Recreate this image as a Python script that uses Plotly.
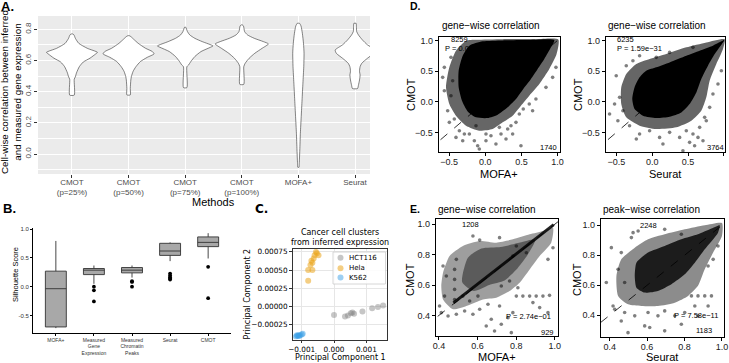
import plotly.graph_objects as go

W, H = 729, 363
SANS = "Liberation Sans, Arial, sans-serif"
MPL = "DejaVu Sans, sans-serif"

# ---------------- Panel A: violin outlines (value, half-width in category units)
a_labels = ["CMOT<br>(p=25%)", "CMOT<br>(p=50%)", "CMOT<br>(p=75%)", "CMOT<br>(p=100%)", "MOFA+", "Seurat"]
a_cmot25_y = [0.378, 0.48, 0.495, 0.52, 0.56, 0.59, 0.615, 0.642, 0.652, 0.678, 0.71, 0.742, 0.764, 0.77]
a_cmot25_w = [0.04, 0.04, 0.06, 0.08, 0.13, 0.20, 0.32, 0.42, 0.45, 0.27, 0.12, 0.06, 0.035, 0.01]
a_cmot50_y = [0.379, 0.42, 0.475, 0.497, 0.53, 0.56, 0.593, 0.62, 0.642, 0.657, 0.678, 0.71, 0.736, 0.753, 0.759]
a_cmot50_w = [0.03, 0.03, 0.04, 0.05, 0.08, 0.13, 0.21, 0.33, 0.45, 0.42, 0.30, 0.17, 0.09, 0.04, 0.01]
a_cmot75_y = [0.426, 0.56, 0.571, 0.593, 0.625, 0.657, 0.685, 0.693, 0.721, 0.742, 0.764, 0.785, 0.813]
a_cmot75_w = [0.03, 0.03, 0.06, 0.10, 0.17, 0.28, 0.45, 0.49, 0.30, 0.17, 0.08, 0.04, 0.01]
a_cmot100_y = [0.447, 0.56, 0.582, 0.614, 0.646, 0.678, 0.706, 0.721, 0.742, 0.764, 0.785, 0.821, 0.828]
a_cmot100_w = [0.035, 0.035, 0.06, 0.13, 0.23, 0.36, 0.47, 0.38, 0.22, 0.10, 0.05, 0.03, 0.01]
a_mofa_y = [-0.085, -0.06, 0.026, 0.133, 0.24, 0.347, 0.454, 0.56, 0.646, 0.71, 0.774, 0.82, 0.838]
a_mofa_w = [0.01, 0.015, 0.025, 0.035, 0.05, 0.065, 0.08, 0.095, 0.10, 0.09, 0.07, 0.047, 0.02]
a_seurat_y = [0.42, 0.44, 0.475, 0.507, 0.53, 0.56, 0.582, 0.614, 0.646, 0.667, 0.70, 0.732, 0.764, 0.785, 0.817, 0.838]
a_seurat_w = [0.045, 0.06, 0.08, 0.09, 0.08, 0.09, 0.12, 0.22, 0.33, 0.35, 0.22, 0.13, 0.06, 0.03, 0.025, 0.02]

# ---------------- Panel B: silhouette score box statistics
b_labels = ["MOFA+", "Measured<br>Gene<br>Expression", "Measured<br>Chromatin<br>Peaks", "Seurat", "CMOT"]
b_q1 = [-0.70, 0.21, 0.24, 0.544, 0.696]
b_median = [-0.035, 0.287, 0.287, 0.62, 0.77]
b_q3 = [0.27, 0.316, 0.333, 0.754, 0.865]
b_low = [-0.72, 0.05, 0.158, 0.444, 0.49]
b_high = [0.795, 0.368, 0.368, 0.77, 0.93]
b_out_x = [2, 2, 2, 3, 3, 3, 4, 4, 4, 4, 4, 5, 5]
b_out_y = [0.0, -0.064, -0.257, 0.094, 0.082, 0.0, 0.228, 0.193, 0.164, 0.14, 0.123, 0.345, -0.199]

# ---------------- Panel C: PCA of inferred expression
c_hct_x = [0.0000, 0.00034, 0.00043, 0.00052, 0.00057, 0.00062, 0.00088, 0.00118, 0.00136, 0.00152]
c_hct_y = [-0.00012, -0.000143, -0.00013, -0.000096, -0.000087, -0.000106, -0.000074, -0.00003, -0.00001, 0.00001]
c_hela_x = [-0.00056, -0.00053, -0.0006, -0.00048, -0.00063, -0.0007, -0.00067, -0.00073, -0.0008, -0.00067, -0.0008]
c_hela_y = [0.00075, 0.00073, 0.000705, 0.000705, 0.00066, 0.000626, 0.0006, 0.00057, 0.0005, 0.0005, 0.00035]
c_k562_x = [-0.00118, -0.00115, -0.00113, -0.0011, -0.00108, -0.00105, -0.001, -0.00097]
c_k562_y = [-0.00042, -0.0004, -0.00041, -0.0004, -0.00041, -0.0004, -0.00039, -0.00038]
c_groups = ["HCT116", "Hela", "K562"]

# ---------------- Panel D: gene-wise correlation, CMOT vs MOFA+ / Seurat
d1_halo_x = [-0.267, -0.406, -0.498, -0.544, -0.498, -0.406, -0.267, -0.083, 0.101, 0.24, 0.378, 0.493, 0.608, 0.747, 0.885, 0.986, 1.01, 0.70, 0.24, -0.129]
d1_halo_y = [0.995, 0.832, 0.56, 0.234, -0.038, -0.228, -0.391, -0.473, -0.446, -0.337, -0.228, -0.065, 0.098, 0.288, 0.533, 0.777, 1.015, 1.02, 1.02, 1.01]
d1_core_x = [-0.221, -0.037, 0.24, 0.608, 0.954, 0.908, 0.816, 0.724, 0.631, 0.525, 0.424, 0.309, 0.171, 0.032, -0.129, -0.244, -0.323, -0.369, -0.369, -0.313]
d1_core_y = [0.913, 0.984, 1.0, 1.005, 1.005, 0.886, 0.696, 0.533, 0.37, 0.207, 0.043, -0.092, -0.212, -0.266, -0.255, -0.158, 0.016, 0.234, 0.505, 0.75]
d1_pts_x = [-0.475, -0.521, -0.429, -0.498, -0.359, -0.313, -0.406, -0.221, -0.152, -0.106, 0.009, 0.078, 0.147, 0.217, 0.286, 0.309, 0.424, 0.47, 0.525, 0.608, 0.70, 0.654, 0.839, 0.931, 0.977, -0.59, -0.567, -0.475, -0.083, 0.493, 0.378, -0.129, 0.009, -0.452, -0.567, -0.29, 0.194, 0.355]
d1_pts_y = [0.098, -0.147, -0.283, -0.337, -0.473, -0.636, -0.582, -0.527, -0.636, -0.717, -0.636, -0.554, -0.69, -0.527, -0.609, -0.446, -0.337, -0.201, -0.12, -0.038, 0.043, -0.147, 0.234, 0.397, 0.56, 0.397, 0.56, 0.723, -0.772, -0.717, -0.527, -0.391, -0.527, 0.342, 0.179, -0.527, -0.418, -0.391]

d2_halo_x = [1.01, 0.754, 0.475, 0.196, -0.037, -0.223, -0.363, -0.433, -0.433, -0.363, -0.177, 0.056, 0.335, 0.545, 0.684, 0.754, 0.801, 0.894, 0.987]
d2_halo_y = [1.02, 0.967, 0.886, 0.777, 0.696, 0.614, 0.451, 0.234, -0.038, -0.255, -0.391, -0.446, -0.418, -0.31, -0.147, 0.071, 0.342, 0.614, 0.859]
d2_core_x = [1.0, 0.847, 0.661, 0.475, 0.242, 0.056, -0.084, -0.177, -0.247, -0.279, -0.247, -0.13, 0.056, 0.242, 0.405, 0.521, 0.615, 0.684, 0.777, 0.871, 0.964]
d2_core_y = [1.0, 0.913, 0.832, 0.75, 0.641, 0.56, 0.505, 0.397, 0.234, 0.043, -0.12, -0.228, -0.266, -0.245, -0.174, -0.038, 0.152, 0.37, 0.587, 0.777, 0.929]
d2_pts_x = [-0.503, -0.456, -0.363, -0.27, -0.177, 0.056, 0.242, 0.568, -0.41, -0.48, -0.317, -0.177, -0.037, 0.102, 0.242, 0.382, 0.475, 0.568, 0.521, 0.591, 0.661, 0.731, 0.801, 0.847, 0.917, 0.964, 0.708, 0.428, -0.596, -0.526, -0.223, 0.149, 0.754, 0.638]
d2_pts_y = [0.424, 0.071, 0.587, 0.668, 0.75, 0.723, 0.804, 0.886, -0.147, -0.31, -0.391, -0.527, -0.473, -0.582, -0.5, -0.582, -0.473, -0.527, -0.663, -0.717, -0.418, -0.255, -0.092, 0.125, 0.288, 0.505, -0.636, -0.799, -0.201, -0.038, -0.609, -0.69, -0.31, -0.582]

# ---------------- Panel E: gene-wise (MOFA+) and peak-wise (Seurat) correlation
e1_halo_x = [0.421, 0.455, 0.524, 0.611, 0.697, 0.783, 0.87, 0.939, 0.991, 0.982, 0.922, 0.87, 0.818, 0.766, 0.697, 0.628, 0.542, 0.473, 0.421, 0.412]
e1_halo_y = [0.681, 0.791, 0.857, 0.89, 0.879, 0.901, 0.934, 0.956, 0.978, 0.879, 0.791, 0.703, 0.615, 0.56, 0.516, 0.505, 0.462, 0.44, 0.505, 0.593]
e1_cloud_x = [0.52, 0.55, 0.62, 0.72, 0.82, 0.90, 0.86, 0.80, 0.74, 0.66, 0.58]
e1_cloud_y = [0.62, 0.78, 0.84, 0.85, 0.88, 0.90, 0.80, 0.70, 0.63, 0.60, 0.56]
e1_band_x = [0.47, 0.99, 1.0, 0.48]
e1_band_y = [0.49, 1.005, 0.99, 0.475]
e1_pts_x = [0.421, 0.403, 0.412, 0.447, 0.49, 0.533, 0.576, 0.611, 0.654, 0.714, 0.671, 0.723, 0.758, 0.783, 0.688, 0.775, 0.645, 0.801, 0.835, 0.87, 0.904, 0.939, 0.973, 0.887, 0.922, 0.965, 0.965, 0.991, 0.853, 0.783, 0.576, 0.611, 0.714, 0.801, 0.49, 0.481, 0.481, 0.481, 0.481, 0.438, 0.429, 0.524, 0.559, 0.602, 0.809, 0.766, 0.723]
e1_pts_y = [0.725, 0.462, 0.418, 0.396, 0.407, 0.429, 0.407, 0.44, 0.473, 0.462, 0.374, 0.341, 0.385, 0.418, 0.297, 0.286, 0.33, 0.527, 0.527, 0.527, 0.527, 0.527, 0.532, 0.484, 0.451, 0.418, 0.769, 0.846, 0.813, 0.791, 0.923, 0.897, 0.912, 0.857, 0.769, 0.703, 0.637, 0.571, 0.505, 0.659, 0.527, 0.527, 0.495, 0.527, 0.582, 0.626, 0.593]

e2_halo_x = [0.445, 0.436, 0.462, 0.534, 0.605, 0.694, 0.801, 0.908, 1.0, 1.0, 0.953, 0.908, 0.872, 0.819, 0.748, 0.658, 0.569, 0.498]
e2_halo_y = [0.529, 0.662, 0.773, 0.851, 0.907, 0.94, 0.973, 1.0, 1.015, 0.929, 0.818, 0.707, 0.596, 0.529, 0.484, 0.462, 0.462, 0.473]
e2_core_x = [0.534, 0.543, 0.605, 0.694, 0.783, 0.872, 0.944, 0.988, 0.979, 0.908, 0.855, 0.801, 0.73, 0.658, 0.587, 0.543]
e2_core_y = [0.662, 0.751, 0.818, 0.862, 0.907, 0.94, 0.978, 1.0, 0.951, 0.84, 0.751, 0.673, 0.607, 0.562, 0.551, 0.584]
e2_pts_x = [0.409, 0.516, 0.445, 0.382, 0.427, 0.48, 0.534, 0.605, 0.587, 0.658, 0.694, 0.614, 0.498, 0.748, 0.801, 0.837, 0.872, 0.908, 0.944, 0.855, 0.926, 0.783, 0.694, 0.953, 0.979, 0.462, 0.525, 0.694, 0.552, 0.48, 0.418, 0.462, 0.872, 0.926, 0.783]
e2_pts_y = [0.851, 0.918, 0.707, 0.618, 0.44, 0.418, 0.396, 0.418, 0.329, 0.396, 0.429, 0.318, 0.284, 0.396, 0.418, 0.529, 0.529, 0.529, 0.529, 0.462, 0.462, 0.34, 0.296, 0.773, 0.862, 0.818, 0.951, 0.973, 0.962, 0.618, 0.462, 0.362, 0.396, 0.729, 0.94]

identity_line = [-1.0, 1.1]


def dx(px):
    return px / W


def dy(py):
    return 1 - py / H


fig = go.Figure()

# ---- A: violins
violins = [(a_cmot25_y, a_cmot25_w), (a_cmot50_y, a_cmot50_w), (a_cmot75_y, a_cmot75_w),
           (a_cmot100_y, a_cmot100_w), (a_mofa_y, a_mofa_w), (a_seurat_y, a_seurat_w)]
for i, (vy, vw) in enumerate(violins):
    pos = i + 1
    xs = [pos - w for w in vw] + [pos + w for w in vw[::-1]]
    ys = list(vy) + list(vy[::-1])
    xs.append(xs[0]); ys.append(ys[0])
    fig.add_trace(go.Scatter(x=xs, y=ys, mode="lines", fill="toself", fillcolor="white",
                             line=dict(color="#333333", width=0.6, shape="spline", smoothing=0.6),
                             xaxis="x", yaxis="y", hoverinfo="skip", showlegend=False))

# ---- B: boxes
b_pos = list(range(1, len(b_labels) + 1))
fig.add_trace(go.Box(x=b_pos, q1=b_q1, median=b_median, q3=b_q3, lowerfence=b_low, upperfence=b_high,
                     width=0.55, whiskerwidth=0, fillcolor="#A8A8A8", line=dict(color="#333333", width=0.9),
                     boxpoints=False, xaxis="x2", yaxis="y2", showlegend=False))
fig.add_trace(go.Scatter(x=b_out_x, y=b_out_y, mode="markers", marker=dict(color="black", size=3.8),
                         xaxis="x2", yaxis="y2", showlegend=False))

# ---- C: PCA scatter
c_colors = ["rgba(128,128,128,0.45)", "rgba(235,165,30,0.55)", "rgba(60,160,230,0.5)"]
for (gx, gy), col in zip([(c_hct_x, c_hct_y), (c_hela_x, c_hela_y), (c_k562_x, c_k562_y)], c_colors):
    fig.add_trace(go.Scatter(x=gx, y=gy, mode="markers", marker=dict(color=col, size=6),
                             xaxis="x3", yaxis="y3", showlegend=False))


def scatter_panel(ax, polys, px_, py_):
    fig.add_trace(go.Scatter(x=identity_line, y=identity_line, mode="lines",
                             line=dict(color="black", width=0.8, dash="dash"),
                             xaxis="x" + ax, yaxis="y" + ax, showlegend=False))
    for (qx, qy, col, smooth) in polys:
        ln = dict(width=0, color=col)
        if smooth:
            ln.update(shape="spline", smoothing=0.6)
        fig.add_trace(go.Scatter(x=list(qx) + [qx[0]], y=list(qy) + [qy[0]], mode="lines", fill="toself",
                                 fillcolor=col, line=ln,
                                 xaxis="x" + ax, yaxis="y" + ax, showlegend=False, hoverinfo="skip"))
    fig.add_trace(go.Scatter(x=px_, y=py_, mode="markers", marker=dict(color="rgba(0,0,0,0.5)", size=3.6),
                             xaxis="x" + ax, yaxis="y" + ax, showlegend=False))


scatter_panel("4", [(d1_halo_x, d1_halo_y, "rgba(0,0,0,0.6)", True), (d1_core_x, d1_core_y, "black", True)],
              d1_pts_x, d1_pts_y)
scatter_panel("5", [(d2_halo_x, d2_halo_y, "rgba(0,0,0,0.6)", True), (d2_core_x, d2_core_y, "black", True)],
              d2_pts_x, d2_pts_y)
scatter_panel("6", [(e1_halo_x, e1_halo_y, "rgba(0,0,0,0.38)", True), (e1_cloud_x, e1_cloud_y, "rgba(0,0,0,0.42)", True),
                    (e1_band_x, e1_band_y, "rgba(0,0,0,0.85)", False)], e1_pts_x, e1_pts_y)
scatter_panel("7", [(e2_halo_x, e2_halo_y, "rgba(0,0,0,0.45)", True), (e2_core_x, e2_core_y, "rgba(0,0,0,0.8)", True)],
              e2_pts_x, e2_pts_y)

# ---- axes
gg_tick = dict(size=8, color="#4D4D4D", family=SANS)
bw_tick = dict(size=9, color="#1A1A1A", family=SANS)


def bw_axis(dom, rng, vals, text, standoff=0):
    return dict(domain=dom, range=rng, tickvals=vals, ticktext=text, showline=True, mirror=True,
                linecolor="black", linewidth=1, ticks="outside", ticklen=3, tickcolor="black",
                tickwidth=0.8, tickfont=bw_tick, showgrid=False, zeroline=False, automargin=False,
                ticklabelstandoff=standoff)


dlab = ["\u22120.5", "0.0", "0.5", "1.0"]
elab = ["0.4", "0.6", "0.8", "1.0"]

fig.update_layout(
    width=W, height=H, margin=dict(l=0, r=0, t=0, b=0, autoexpand=False),
    paper_bgcolor="white", plot_bgcolor="white", showlegend=False,
    font=dict(family=SANS, color="black"),
    xaxis=dict(domain=[dx(38), dx(370)], range=[0.4, 6.265], tickvals=list(range(1, 7)), ticktext=a_labels,
               showgrid=True, gridcolor="white", gridwidth=1.1, zeroline=False, showline=False,
               ticks="outside", ticklen=3, tickcolor="#333333", tickfont=gg_tick, anchor="y", automargin=False,
               ticklabelstandoff=-3),
    yaxis=dict(domain=[dy(174), dy(16)], range=[-0.128, 0.885], tickvals=[0, 0.2, 0.4, 0.6, 0.8],
               ticktext=["0.0", "0.2", "0.4", "0.6", "0.8"], tickangle=-90,
               showgrid=True, gridcolor="white", gridwidth=1.1, zeroline=False, showline=False,
               ticks="outside", ticklen=3, tickcolor="#333333", tickfont=gg_tick, anchor="x", automargin=False,
               minor=dict(tickvals=[-0.1, 0.1, 0.3, 0.5, 0.7], showgrid=True, gridcolor="white",
                          gridwidth=0.5, ticks="")),
    xaxis2=dict(domain=[dx(33), dx(231)], range=[0.4, 5.6], tickvals=b_pos, ticktext=b_labels,
                showline=True, linecolor="black", linewidth=0.8, ticks="outside", ticklen=2,
                tickcolor="black", tickfont=dict(size=5, color="#333333"), showgrid=False,
                zeroline=False, anchor="y2", automargin=False),
    yaxis2=dict(domain=[dy(332.7), dy(228)], range=[-0.80, 1.02], tickvals=[-0.5, 0, 0.5, 1.0],
                ticktext=["-0.5", "0.0", "0.5", "1.0"], showline=True, linecolor="black", linewidth=0.8,
                ticks="outside", ticklen=2, tickcolor="black", tickfont=dict(size=6, color="#333333"),
                showgrid=False, zeroline=False, anchor="x2", automargin=False),
    xaxis3=dict(domain=[dx(293), dx(387)], range=[-0.00127, 0.00164], tickvals=[-0.001, 0, 0.001],
                ticktext=["\u22120.001", "0.000", "0.001"], showline=True, mirror=True, linecolor="#333333",
                linewidth=0.8, ticks="outside", ticklen=3, tickcolor="#333333",
                tickfont=dict(size=7.3, family=MPL, color="black"), showgrid=True, gridcolor="#E6E6E6",
                gridwidth=0.6, zeroline=False, anchor="y3", automargin=False),
    yaxis3=dict(domain=[dy(339.5), dy(249)], range=[-0.00046, 0.00079],
                tickvals=[-0.00025, 0, 0.00025, 0.0005, 0.00075],
                ticktext=["\u22120.00025", "0.00000", "0.00025", "0.00050", "0.00075"], showline=True,
                mirror=True, linecolor="#333333", linewidth=0.8, ticks="outside", ticklen=3,
                tickcolor="#333333", tickfont=dict(size=7.3, family=MPL, color="black"), showgrid=True,
                gridcolor="#E6E6E6", gridwidth=0.6, zeroline=False, anchor="x3", automargin=False),
    xaxis4=dict(bw_axis([dx(438.7), dx(560)], [-0.645, 1.033], [-0.5, 0, 0.5, 1], dlab, -2), anchor="y4"),
    yaxis4=dict(bw_axis([dy(152.3), dy(36.7)], [-0.825, 1.06], [-0.5, 0, 0.5, 1], dlab), anchor="x4"),
    xaxis5=dict(bw_axis([dx(605.7), dx(725)], [-0.65, 1.015], [-0.5, 0, 0.5, 1], dlab, -2), anchor="y5"),
    yaxis5=dict(bw_axis([dy(152.3), dy(36.7)], [-0.825, 1.06], [-0.5, 0, 0.5, 1], dlab), anchor="x5"),
    xaxis6=dict(bw_axis([dx(435.7), dx(558)], [0.383, 1.017], [0.4, 0.6, 0.8, 1.0], elab, -2), anchor="y6"),
    yaxis6=dict(bw_axis([dy(336), dy(219.3)], [0.264, 1.033], [0.4, 0.6, 0.8, 1.0], elab), anchor="x6"),
    xaxis7=dict(bw_axis([dx(600.7), dx(724)], [0.352, 1.011], [0.4, 0.6, 0.8, 1.0], elab, -2), anchor="y7"),
    yaxis7=dict(bw_axis([dy(336.7), dy(219.3)], [0.257, 1.04], [0.4, 0.6, 0.8, 1.0], elab), anchor="x7"),
)

shapes = [dict(type="rect", xref="x domain", yref="y domain", x0=0, x1=1, y0=0, y1=1,
               fillcolor="#EBEBEB", line=dict(width=0), layer="below")]
# manual legend for panel C
shapes.append(dict(type="rect", xref="paper", yref="paper", x0=dx(333), x1=dx(385.5), y0=dy(284), y1=dy(252),
                   fillcolor="rgba(255,255,255,0.85)", line=dict(color="#CCCCCC", width=0.8)))
legend_rows = [257.7, 268.3, 277.6]
for yy, col in zip(legend_rows, c_colors):
    shapes.append(dict(type="circle", xref="paper", yref="paper", x0=dx(337.5), x1=dx(343.5),
                       y0=dy(yy + 3), y1=dy(yy - 3), fillcolor=col, line=dict(width=0)))
fig.update_layout(shapes=shapes)

anns = []


def ann(text, px, py, size, xanchor="center", yanchor="middle", angle=0, family=SANS, color="black", bold=False):
    t = "<b>%s</b>" % text if bold else text
    anns.append(dict(text=t, x=dx(px), y=dy(py), xref="paper", yref="paper", showarrow=False,
                     xanchor=xanchor, yanchor=yanchor, textangle=angle,
                     font=dict(size=size, family=family, color=color)))


def dann(text, ax, x, y, size=7.5, xanchor="center"):
    anns.append(dict(text=text, x=x, y=y, xref="x" + ax, yref="y" + ax, showarrow=False,
                     xanchor=xanchor, yanchor="middle", font=dict(size=size, family=SANS, color="black")))


# panel letters
ann("A.", 8, 7, 13, bold=True)
ann("B.", 9, 208, 13, bold=True)
ann("C.", 261, 209, 12, bold=True, family=MPL)
ann("D.", 415, 6, 10.5, bold=True)
ann("E.", 415, 208.7, 10.5, bold=True)

# panel A titles
ann("Cell-wise correlation between inferred<br>and measured gene expression", 11, 92, 9.8, angle=-90)
ann("Methods", 213, 202, 11)
# panel B
ann("Silhouette Score", 15, 275, 7.5, angle=-90)
# panel C
ann("Cancer cell clusters<br>from inferred expression", 340, 237.5, 8, family=MPL)
ann("Principal Component 1", 340.5, 357, 8, family=MPL)
ann("Principal Component 2", 246.5, 294, 8, angle=-90, family=MPL)
for yy, name in zip(legend_rows, c_groups):
    ann(name, 347, yy, 7, xanchor="left", family=MPL)
# panel D / E titles
ann("gene\u2212wise correlation", 440, 25, 10, xanchor="left")
ann("gene\u2212wise correlation", 606, 25, 10, xanchor="left")
ann("gene\u2212wise correlation", 435.5, 209, 10, xanchor="left")
ann("peak\u2212wise correlation", 600.7, 209, 10, xanchor="left")
ann("CMOT", 411, 95, 11, angle=-90)
ann("CMOT", 578, 95, 11, angle=-90)
ann("CMOT", 410, 280, 11, angle=-90)
ann("CMOT", 577, 280, 11, angle=-90)
ann("MOFA+", 499.4, 174, 11)
ann("Seurat", 665.4, 174, 11)
ann("MOFA+", 496.9, 356.5, 11)
ann("Seurat", 662.4, 356.5, 11)

dann("8259", "4", -0.36, 1.02)
dann("P = 0.00e+00", "4", -0.24, 0.86)
dann("1740", "4", 0.87, -0.745)
dann("6235", "5", -0.375, 1.02)
dann("P = 1.59e\u221231", "5", -0.185, 0.86)
dann("3764", "5", 0.88, -0.745)
dann("1208", "6", 0.563, 1.0)
dann("P = 2.74e\u221201", "6", 0.864, 0.395)
dann("929", "6", 0.96, 0.29)
dann("2248", "7", 0.605, 1.0)
dann("P = 7.58e\u221211", "7", 0.861, 0.40)
dann("1183", "7", 0.904, 0.297)

fig.update_layout(annotations=anns)
fig.write_html("out.html", config={"displayModeBar": False},
               post_script="document.body.style.margin='0px';document.body.style.padding='0px';")
